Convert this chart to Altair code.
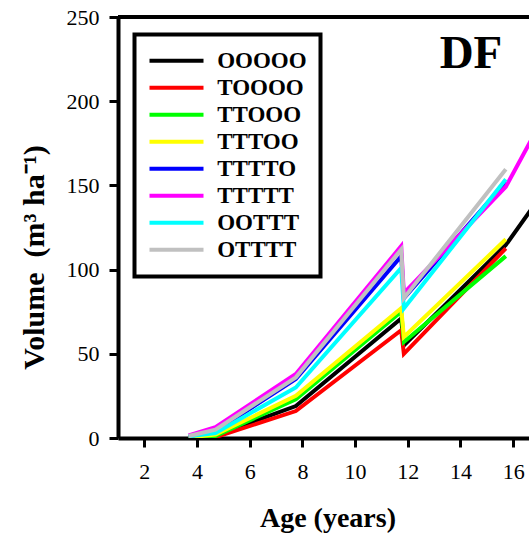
import altair as alt
import pandas as pd

# ---- data ----
ages = [3.68, 4.7, 7.75, 11.75, 11.85, 15.72]
age_after = [19.7]          # continuation beyond the visible area (clipped)
series = ["OOOOO", "TOOOO", "TTOOO", "TTTOO", "TTTTO", "TTTTT", "OOTTT", "OTTTT"]
colors = ["#000000", "#ff0000", "#00ff00", "#ffff00", "#0000ff", "#ff00ff", "#00ffff", "#c0c0c0"]

v_OOOOO = [0.3, 1.5, 19, 71, 55, 114.6]
v_TOOOO = [0.0, 0.5, 16, 64, 50, 112.6]
v_TTOOO = [0.2, 1.2, 23, 75, 57, 108]
v_TTTOO = [0.4, 2.0, 25, 77, 60, 118]
v_TTTTO = [1.0, 4.0, 35, 108, 83, 152]
v_TTTTT = [1.5, 6.5, 38, 114, 86, 149.2]
v_OOTTT = [1.0, 3.0, 30, 101, 77, 153.6]
v_OTTTT = [1.2, 5.0, 36, 112, 83, 159.6]
v_OOOOO_after = [202]
v_TTTTT_after = [264]

x_ticks = [2, 4, 6, 8, 10, 12, 14, 16]
y_ticks = [0, 50, 100, 150, 200, 250]
panel_label = "DF"

values = {
    "OOOOO": (ages + age_after, v_OOOOO + v_OOOOO_after),
    "TOOOO": (ages, v_TOOOO),
    "TTOOO": (ages, v_TTOOO),
    "TTTOO": (ages, v_TTTOO),
    "TTTTO": (ages, v_TTTTO),
    "TTTTT": (ages + age_after, v_TTTTT + v_TTTTT_after),
    "OOTTT": (ages, v_OOTTT),
    "OTTTT": (ages, v_OTTTT),
}
rows = []
for s in series:
    xs, ys = values[s]
    for a, v in zip(xs, ys):
        rows.append({"series": s, "age": a, "vol": v})
df = pd.DataFrame(rows)

W, H = 411, 421
FONT = "Liberation Serif"

lines = alt.Chart(df).mark_line(strokeWidth=4, clip=True).encode(
    x=alt.X("age:Q",
            scale=alt.Scale(domain=[1, 16.6], nice=False, zero=False),
            axis=alt.Axis(values=x_ticks, title="Age (years)", labelPadding=14,
                          labelFlush=False, titleX=209.5, titleY=88,
                          titleBaseline="alphabetic", titleAlign="center")),
    y=alt.Y("vol:Q",
            scale=alt.Scale(domain=[0, 250], nice=False),
            axis=alt.Axis(values=y_ticks,
                          title="Volume\u00a0\u00a0(m\u00b3\u00a0ha\u207b\u00b9)",
                          labelPadding=10, titleX=-75, titleY=240, titleAngle=270,
                          titleFontSize=30,
                          titleBaseline="alphabetic", titleAlign="center")),
    color=alt.Color("series:N",
                    scale=alt.Scale(domain=series, range=colors),
                    legend=alt.Legend(title=None, orient="none", legendX=16.5, legendY=17.5,
                                      symbolType="stroke", symbolSize=2916, symbolStrokeWidth=4,
                                      labelFont=FONT, labelFontSize=23, labelFontWeight="bold",
                                      labelColor="black", labelOffset=11.7, labelLimit=300,
                                      clipHeight=26.7, rowPadding=0, padding=13,
                                      strokeColor="black", fillColor="white")),
    order=alt.Order("age:Q"),
)

top = alt.Chart(pd.DataFrame({"k": [0]})).mark_rule(color="black", strokeWidth=4).encode(
    x=alt.value(0), x2=alt.value(W), y=alt.value(0)
)

label = alt.Chart(pd.DataFrame({"t": [panel_label]})).mark_text(
    font=FONT, fontSize=47, fontWeight="bold", align="center", baseline="alphabetic", color="black"
).encode(x=alt.value(353), y=alt.value(51), text="t:N")

chart = alt.layer(lines, top, label).properties(
    width=W, height=H,
    autosize=alt.AutoSizeParams(type="none"),
    padding={"left": 118, "top": 17, "right": 0, "bottom": 96},
    background="white",
).configure_view(stroke=None).configure_axis(
    domainColor="black", domainWidth=4, tickColor="black", tickWidth=3, tickSize=9,
    labelFont=FONT, labelFontSize=22, labelColor="black",
    titleFont=FONT, titleFontSize=28, titleFontWeight="bold", titleColor="black",
    grid=False,
).configure_legend(strokeWidth=4, labelFont=FONT, labelFontWeight="bold", labelFontSize=23)

chart.save("out.html", embed_options={"renderer": "svg", "actions": False})
